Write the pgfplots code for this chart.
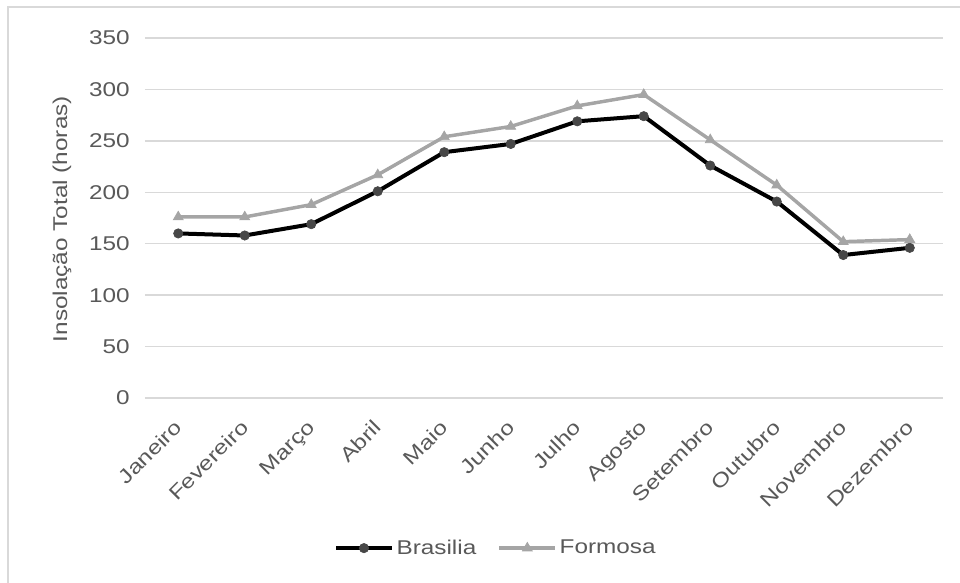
\documentclass[border=0pt]{standalone}
\usepackage{fontspec}
\setmainfont[FakeStretch=1.22]{Liberation Sans}
\usepackage{pgfplots}
\pgfplotsset{compat=1.18}
\definecolor{txt}{HTML}{595959}
\definecolor{gridc}{HTML}{D9D9D9}
\definecolor{bmark}{HTML}{474747}
\definecolor{fline}{HTML}{A5A5A5}
\begin{document}
\begin{tikzpicture}
\begin{axis}[
  scale only axis,
  width=598.5bp, height=270bp,
  xmin=-0.5, xmax=11.5, ymin=0, ymax=350,
  ytick={0,50,...,350},
  xtick={0,...,11},
  xticklabels={Janeiro,Fevereiro,Março,Abril,Maio,Junho,Julho,Agosto,Setembro,Outubro,Novembro,Dezembro},
  axis line style={draw=none},
  major tick length=0pt,
  xmajorgrids=false,
  ymajorgrids=true,
  major grid style={draw=gridc, line width=1.1bp},
  /pgf/number format/assume math mode=true,
  tick label style={font=\fontsize{15}{18}\selectfont, text=txt},
  yticklabel style={xshift=-8bp},
  xticklabel style={xshift=-4bp, yshift=-14bp, rotate=45, anchor=north east, inner sep=1bp},
  ylabel={Insolação Total (horas)},
  ylabel style={font=\fontsize{15}{18}\selectfont, text=txt, at={(axis description cs:-0.104,0.497)}, anchor=center},
  legend columns=2,
  legend style={draw=none, at={(axis description cs:0.44,-0.417)}, anchor=center,
    font=\fontsize{15}{18}\selectfont, text=txt,
    /tikz/every even column/.append style={column sep=14bp}},
  legend image code/.code={\draw[mark repeat=2,mark phase=2] plot coordinates {(0cm,0cm) (0.74cm,0cm) (1.48cm,0cm)};},
]
\addplot[black, line width=3bp, mark=*, mark size=3.5bp, mark options={fill=bmark, draw=bmark, line width=0.5bp}]
  coordinates {(0,160) (1,158) (2,169) (3,201) (4,239) (5,247) (6,269) (7,274) (8,226) (9,191) (10,139) (11,146)};
\addlegendentry{Brasilia}
\addplot[fline, line width=2.6bp, mark=triangle*, mark size=4.3bp, mark options={fill=fline, draw=fline, line width=0.5bp}]
  coordinates {(0,176) (1,176) (2,188) (3,217) (4,254) (5,264) (6,284) (7,295) (8,251) (9,207) (10,152) (11,154)};
\addlegendentry{Formosa}
\end{axis}
\draw[gridc, line width=1bp] (-102.75bp,-150bp) rectangle (620bp,293.25bp);
\pgfresetboundingbox
\useasboundingbox (-108.75bp,-138.75bp) rectangle (611.25bp,298.5bp);
\end{tikzpicture}
\end{document}
